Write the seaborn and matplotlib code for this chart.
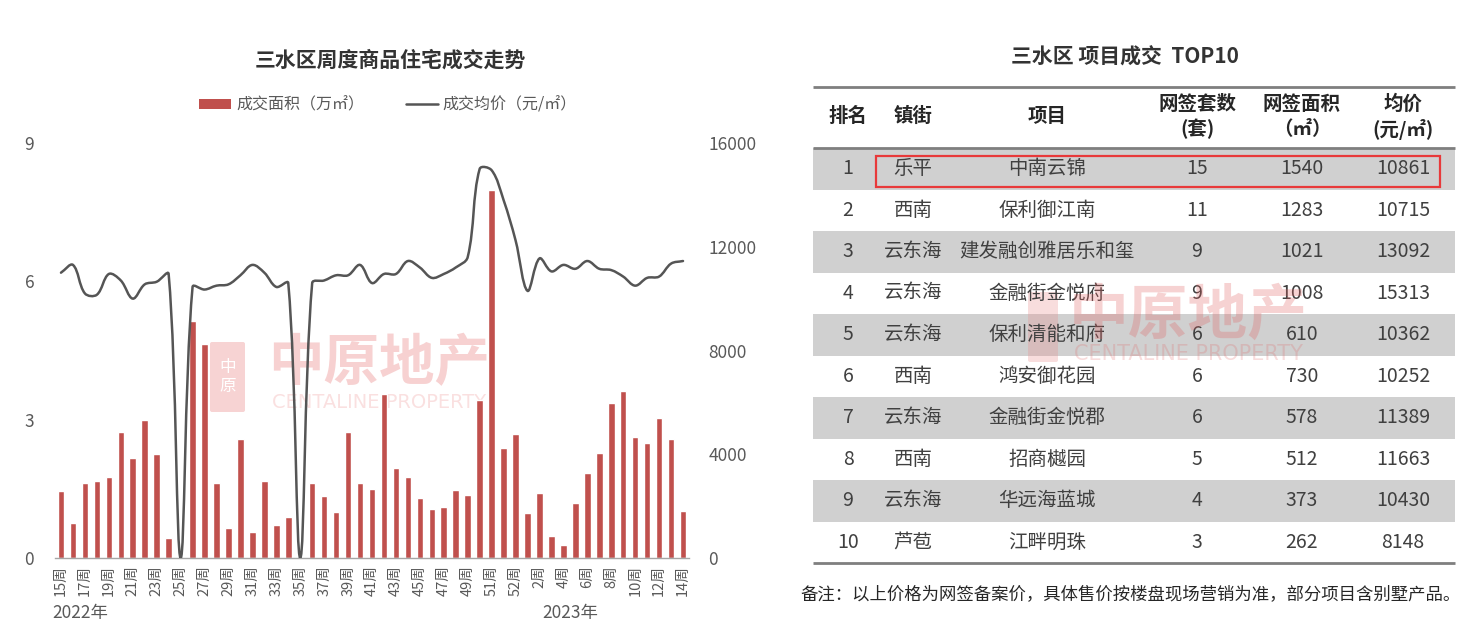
import numpy as np
import matplotlib
matplotlib.use('Agg')
import matplotlib.pyplot as plt
from matplotlib.path import Path
from matplotlib.patches import PathPatch, Patch, Rectangle, FancyBboxPatch
from matplotlib.lines import Line2D
import pandas as pd
import seaborn as sns

# ---- weekly data (2022 wk15 .. 2023 wk14) ----
area = [1.45, 0.75, 1.63, 1.66, 1.76, 2.73, 2.17, 2.99, 2.26, 0.43,
        0.00, 5.13, 4.65, 1.63, 0.64, 2.59, 0.57, 1.68, 0.72, 0.88,
        0.00, 1.63, 1.34, 1.00, 2.73, 1.63, 1.50, 3.56, 1.96, 1.76,
        1.31, 1.06, 1.11, 1.48, 1.37, 3.42, 7.98, 2.39, 2.70, 0.97,
        1.42, 0.48, 0.29, 1.20, 1.85, 2.28, 3.36, 3.62, 2.62, 2.50,
        3.04, 2.59, 1.03]
price = [11000, 11300, 10200, 10150, 10950, 10700, 10000, 10550, 10650, 10950,
         0, 10450, 10350, 10500, 10550, 10900, 11300, 11000, 10450, 10600,
         0, 10600, 10700, 10900, 10900, 11300, 10600, 10950, 10950, 11450,
         11200, 10800, 10950, 11200, 11600, 15000, 14950, 13800, 12250, 10300,
         11550, 11050, 11300, 11150, 11450, 11150, 11100, 10850, 10500, 10800,
         10850, 11350, 11450]
week_labels = ['15周', '17周', '19周', '21周', '23周', '25周', '27周', '29周', '31周',
               '33周', '35周', '37周', '39周', '41周', '43周', '45周', '47周', '49周',
               '51周', '52周', '2周', '4周', '6周', '8周', '10周', '12周', '14周']
year_labels = ['2022年', '2023年']
left_ticks = [0, 3, 6, 9]
right_ticks = [0, 4000, 8000, 12000, 16000]

# ---- TOP10 table ----
header = ['排名', '镇街', '项目', '网签套数', '网签面积', '均价']
header_sub = ['', '', '', '(套)', '（㎡）', '(元/㎡)']
ranks = ['1', '2', '3', '4', '5', '6', '7', '8', '9', '10']
towns = ['乐平', '西南', '云东海', '云东海', '云东海', '西南', '云东海', '西南', '云东海', '芦苞']
projects = ['中南云锦', '保利御江南', '建发融创雅居乐和玺', '金融街金悦府', '保利清能和府',
            '鸿安御花园', '金融街金悦郡', '招商樾园', '华远海蓝城', '江畔明珠']
units = [15, 11, 9, 9, 6, 6, 6, 5, 4, 3]
areas = [1540, 1283, 1021, 1008, 610, 730, 578, 512, 373, 262]
prices = [10861, 10715, 13092, 15313, 10362, 10252, 11389, 11663, 10430, 8148]

bar_color = '#C0504D'
line_color = '#555555'
text_color = '#595959'

sns.set_theme(style='white')
plt.rcParams['font.family'] = ['Noto Sans CJK SC', 'DejaVu Sans']

W, H = 1483, 633
fig = plt.figure(figsize=(W / 100, H / 100), dpi=100)


def fx(px):
    return px / W


def fy(py):
    return 1 - py / H


def smooth_path(ax, xs, ys, tension=0.36):
    # office-style smoothed line: bezier control points scaled by
    # segment lengths measured on screen, so spikes do not overshoot
    pts = np.column_stack([xs, ys]).astype(float)
    scr = ax.transData.transform(pts)
    ext = np.vstack([pts[0], pts, pts[-1]])
    sext = np.vstack([scr[0], scr, scr[-1]])
    verts = [pts[0]]
    codes = [Path.MOVETO]
    for i in range(len(pts) - 1):
        p0, p1, p2, p3 = ext[i], ext[i + 1], ext[i + 2], ext[i + 3]
        s0, s1, s2, s3 = sext[i], sext[i + 1], sext[i + 2], sext[i + 3]
        d01 = np.hypot(*(s1 - s0))
        d12 = np.hypot(*(s2 - s1))
        d23 = np.hypot(*(s3 - s2))
        f1 = d12 / (d01 + d12) if d01 + d12 > 0 else 0
        f2 = d12 / (d12 + d23) if d12 + d23 > 0 else 0
        c1 = p1 + (p2 - p0) * tension * f1
        c2 = p2 - (p3 - p1) * tension * f2
        verts += [c1, c2, p2]
        codes += [Path.CURVE4] * 3
    return Path(verts, codes)


# ---- left chart ----
ax = fig.add_axes([fx(55), fy(558), fx(689) - fx(55), fy(143) - fy(558)])
df = pd.DataFrame({'week': range(len(area)), 'area': area, 'price': price})
sns.barplot(data=df, x='week', y='area', color=bar_color, saturation=1,
            width=0.55, errorbar=None, ax=ax, zorder=2)
ax.set_xlim(-0.5, len(area) - 0.5)
ax.set_ylim(0, 9)
ax.set_yticks(left_ticks)
ax.set_xticks(range(0, len(area), 2))
ax.set_xticklabels(week_labels, rotation=90)
ax.set_xlabel('')
ax.set_ylabel('')
for s in ['top', 'left', 'right']:
    ax.spines[s].set_visible(False)
ax.spines['bottom'].set_color('#A6A6A6')
ax.spines['bottom'].set_linewidth(1)
ax.tick_params(axis='y', length=0, pad=15, labelsize=12.5, labelcolor=text_color)
ax.tick_params(axis='x', length=0, pad=5, labelsize=10.5, labelcolor=text_color)

ax2 = ax.twinx()
ax2.set_xlim(-0.5, len(area) - 0.5)
ax2.set_ylim(0, 16000)
ax2.set_yticks(right_ticks)
for s in ax2.spines.values():
    s.set_visible(False)
ax2.tick_params(axis='y', length=0, pad=14, labelsize=12.5, labelcolor=text_color)
ax2.add_patch(PathPatch(smooth_path(ax2, df['week'], df['price']), fill=False,
                        edgecolor=line_color, lw=1.8, joinstyle='round', capstyle='round'))

handles = [Patch(facecolor=bar_color, edgecolor='none'),
           Line2D([], [], color=line_color, lw=1.8)]
fig.legend(handles=handles, labels=['成交面积（万㎡）', '成交均价（元/㎡）'],
           loc='center', bbox_to_anchor=(fx(388), fy(105)), ncol=2, frameon=False,
           fontsize=11.5, handlelength=2.0, handleheight=0.6, handletextpad=0.3,
           columnspacing=2.6, labelcolor=text_color)

# overlay in pixel coordinates for titles, table, notes
axo = fig.add_axes([0, 0, 1, 1])
axo.set_xlim(0, W)
axo.set_ylim(H, 0)
axo.axis('off')
axo.patch.set_alpha(0)

axo.text(390, 60, '三水区周度商品住宅成交走势', ha='center', va='center',
         fontsize=15, fontweight='bold', color='#333333')
axo.text(80, 613, year_labels[0], ha='center', va='center', fontsize=12.5, color=text_color)
axo.text(570, 613, year_labels[1], ha='center', va='center', fontsize=12.5, color=text_color)

# watermark behind the bars
wm_kw = dict(transform=axo.transData, clip_on=False)
ax.add_patch(FancyBboxPatch((212, 344), 31, 66, boxstyle='round,pad=2',
                            fc='#F7D3D3', ec='none', zorder=0.5, **wm_kw))
ax.text(227.5, 377, '中\n原', ha='center', va='center', fontsize=12, color='white',
        linespacing=1.1, zorder=0.6, **wm_kw)
ax.text(379, 364, '中原地产', ha='center', va='center', fontsize=40, fontweight='bold',
        color='#F7D1D1', zorder=0.5, **wm_kw)
ax.text(379, 403, 'CENTALINE PROPERTY', ha='center', va='center', fontsize=14,
        family='DejaVu Sans', color='#FAE0E0', zorder=0.5, **wm_kw)

# ---- table ----
axo.text(1125, 57, '三水区 项目成交  TOP10', ha='center', va='center',
         fontsize=15, fontweight='bold', color='#333333')
col_x = [848, 913, 1047, 1197, 1302, 1403]
tbl_left, tbl_right = 813, 1455
row_top, row_h = 148, 41.5
for i in range(len(ranks)):
    if i % 2 == 0:
        axo.add_patch(Rectangle((tbl_left, row_top + i * row_h), tbl_right - tbl_left, row_h,
                                fc='#D0D0D0', ec='none'))
axo.hlines([87, row_top, row_top + len(ranks) * row_h], tbl_left, tbl_right,
           colors='#7F7F7F', lw=2)

for x, h, sub in zip(col_x, header, header_sub):
    if sub:
        axo.text(x, 104, h, ha='center', va='center', fontsize=14, fontweight='bold', color='#262626')
        axo.text(x, 129, sub, ha='center', va='center', fontsize=14, fontweight='bold', color='#262626')
    else:
        axo.text(x, 116, h, ha='center', va='center', fontsize=14, fontweight='bold', color='#262626')

for i in range(len(ranks)):
    yc = row_top + (i + 0.5) * row_h
    row = [ranks[i], towns[i], projects[i], str(units[i]), str(areas[i]), str(prices[i])]
    for x, v in zip(col_x, row):
        axo.text(x, yc, v, ha='center', va='center', fontsize=14, color='#404040')

axo.add_patch(Rectangle((876, 156), 564, 31, fill=False, ec='#E8393A', lw=1.6))

# watermark over table (drawn faint, as in the source)
axo.add_patch(FancyBboxPatch((1030, 294), 26, 66, boxstyle='round,pad=2',
                             fc='#E89090', ec='none', alpha=0.3))
axo.text(1188, 317, '中原地产', ha='center', va='center', fontsize=43, fontweight='bold',
         color='#E06060', alpha=0.28)
axo.text(1188, 354, 'CENTALINE PROPERTY', ha='center', va='center', fontsize=15,
         family='DejaVu Sans', color='#E06060', alpha=0.22)

axo.text(800, 594, '备注：以上价格为网签备案价，具体售价按楼盘现场营销为准，部分项目含别墅产品。',
         ha='left', va='center', fontsize=12.5, color='#262626')

fig.savefig('out.png', dpi=100)
